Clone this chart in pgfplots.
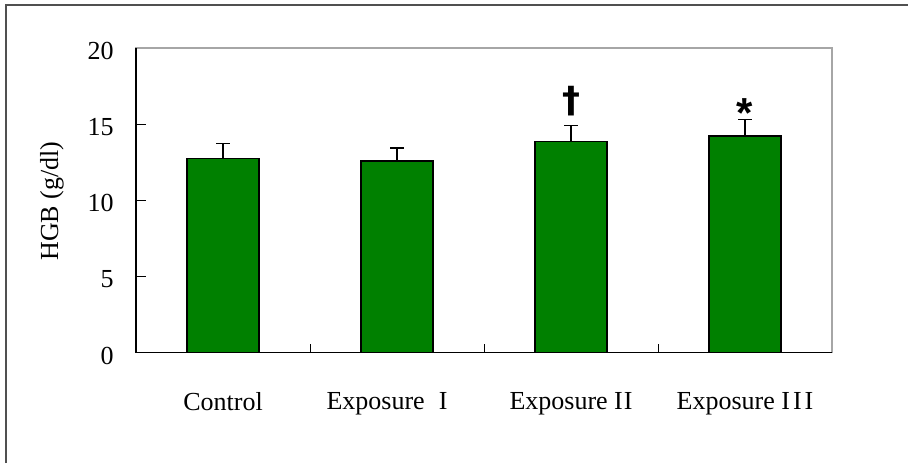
\documentclass[border=0pt]{standalone}
\usepackage{fontspec}
\setmainfont{Liberation Serif}
\newfontfamily\sansfont{Liberation Sans}
\newfontfamily\djfont{DejaVu Sans}
\usepackage{pgfplots}
\pgfplotsset{compat=1.18}
\definecolor{bargreen}{RGB}{0,128,0}
\definecolor{framegray}{RGB}{80,80,80}
\begin{document}
\begin{tikzpicture}
\useasboundingbox (0,0) rectangle (454pt,231.5pt);
\draw[framegray, line width=1pt] (3pt,0) -- (3pt,229pt) -- (454pt,229pt);
\begin{axis}[
  at={(68pt,55.15pt)}, anchor=south west,
  scale only axis, width=348pt, height=152.35pt,
  xmin=-0.5, xmax=3.5, ymin=0, ymax=20,
  clip=false,
  ybar, bar width=35.8pt,
  ytick={0,5,10,15,20},
  xtick={0,1,2,3},
  xticklabels={Control, Exposure\kern7pt I\kern10pt\null, Exposure I\kern0.5pt I, Exposure I\kern1.5pt I\kern1.5pt I},
  minor xtick={0.5,1.5,2.5,3.5},
  major x tick style={draw=none},
  minor x tick style={black, line width=0.5pt},
  minor tick length=4.5pt,
  major tick length=5pt,
  ytick style={black, line width=0.5pt},
  tick align=inside,
  xtick pos=lower, ytick pos=left,
  axis line style={draw=gray!70, line width=0.6pt},
  tick label style={font=\fontsize{13pt}{15pt}\selectfont},
  /pgf/number format/assume math mode=true,
  yticklabel style={xshift=-7.7pt, yshift=-1.4pt},
  xticklabel style={yshift=-16.5pt},
]
\addplot[ybar, fill=bargreen, draw=black, line width=0.75pt,
  error bars/.cd, y dir=plus, y explicit,
  error bar style={black, line width=0.6pt},
  error mark options={rotate=90, mark size=3.3pt, black, line width=0.6pt}]
  coordinates {(0,12.76) +- (0,0.99) (1,12.59) +- (0,0.85) (2,13.86) +- (0,1.07) (3,14.23) +- (0,1.09)};
\draw[black, line width=0.6pt] (rel axis cs:0,1) -- (rel axis cs:0,0) -- (rel axis cs:1,0);
\node[anchor=base, inner sep=0pt] at (axis cs:2,15.75) {\djfont\fontsize{18pt}{18pt}\selectfont\bfseries †};
\node[anchor=base, inner sep=0pt] at (axis cs:3,14.75) {\sansfont\fontsize{21pt}{21pt}\selectfont\bfseries *};
\end{axis}
\node[rotate=90, font=\fontsize{13pt}{15pt}\selectfont] at (26pt,131pt) {HGB (g/dl)};
\end{tikzpicture}
\end{document}
